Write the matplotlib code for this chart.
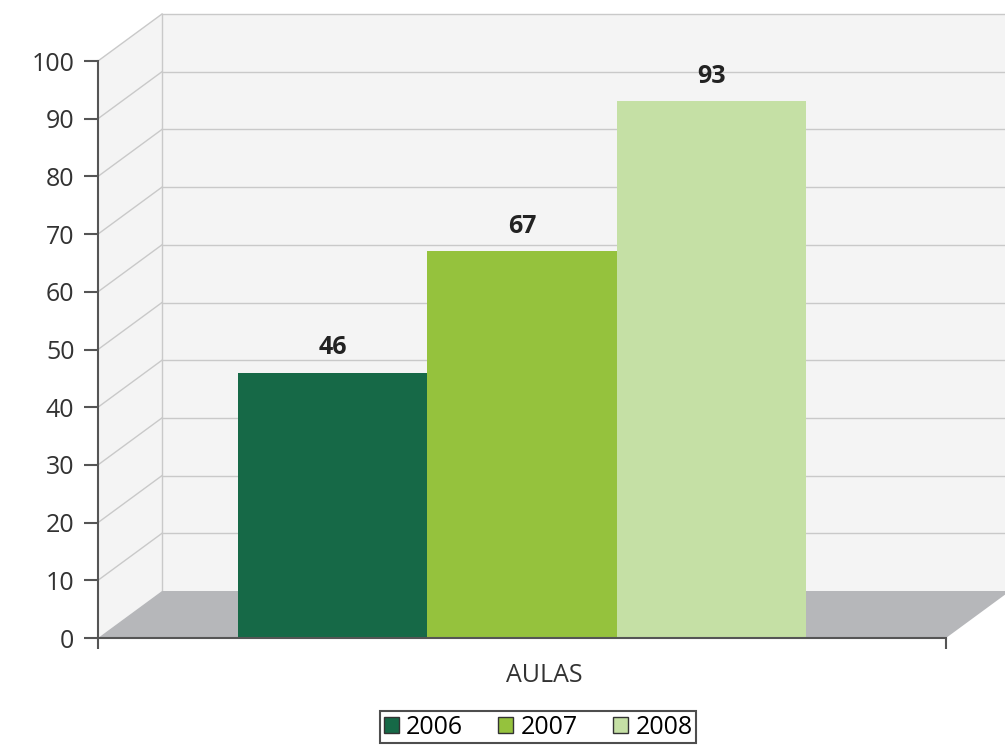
import matplotlib.pyplot as plt
from matplotlib.patches import Polygon, Patch

plt.rcParams['font.family'] = ['Open Sans', 'DejaVu Sans']

# data
years = ['2006', '2007', '2008']
values = [46, 67, 93]
colors = ['#166947', '#95c23d', '#c5e0a5']
category = 'AULAS'
y_ticks = list(range(0, 101, 10))

fig = plt.figure(figsize=(10.05, 7.45), dpi=100)
ax = fig.add_axes([98 / 1005, 107 / 745, 848 / 1005, 577 / 745])
ax.set_xlim(0, 1)
ax.set_ylim(0, 100)

# depth of the fake 3d box
dx = 64 / 848
dy = 47 / 577 * 100

wall_c = '#f4f4f4'
grid_c = '#c9c9c9'

# side wall, back wall and floor
ax.add_patch(Polygon([(0, 0), (dx, dy), (dx, 100 + dy), (0, 100)], closed=True,
                     facecolor=wall_c, edgecolor='none', clip_on=False, zorder=0))
ax.add_patch(Polygon([(dx, dy), (1 + dx, dy), (1 + dx, 100 + dy), (dx, 100 + dy)], closed=True,
                     facecolor=wall_c, edgecolor='none', clip_on=False, zorder=0))
ax.add_patch(Polygon([(0, 0), (dx, dy), (1 + dx, dy), (1, 0)], closed=True,
                     facecolor='#b6b7ba', edgecolor='none', clip_on=False, zorder=1))

# grid lines on the walls
for v in y_ticks[1:]:
    ax.plot([0, dx], [v, v + dy], color=grid_c, lw=1, clip_on=False, zorder=0.5)
    ax.plot([dx, 1 + dx], [v + dy, v + dy], color=grid_c, lw=1, clip_on=False, zorder=0.5)
ax.plot([dx, dx], [dy, 100 + dy], color=grid_c, lw=1, clip_on=False, zorder=0.5)

# bars
width = 0.223
for i, (yr, v, c) in enumerate(zip(years, values, colors)):
    x = 0.5 + (i - 1) * width
    ax.bar(x, v, width=width, color=c, zorder=2, label=yr)
    ax.text(x, v + 4.3, str(v), ha='center', va='center', fontsize=18,
            fontweight='bold', color='#222222', zorder=3)

# axes styling
ax.set_facecolor('none')
for s in ['top', 'right']:
    ax.spines[s].set_visible(False)
for s in ['left', 'bottom']:
    ax.spines[s].set_color('#555555')
    ax.spines[s].set_linewidth(1.5)
    ax.spines[s].set_zorder(3)
ax.set_yticks(y_ticks)
ax.set_xticks([0, 1])
ax.set_xticklabels(['', ''])
ax.tick_params(axis='y', length=10, width=1.5, color='#555555', labelsize=18,
               labelcolor='#333333', pad=7)
ax.tick_params(axis='x', length=8, width=1.5, color='#555555')

fig.text(544 / 1005, 1 - 676 / 745, category, ha='center', va='center',
         fontsize=18, color='#333333')

handles = [Patch(facecolor=c, edgecolor='#333333', label=y) for y, c in zip(years, colors)]
leg = fig.legend(handles=handles, loc='center', bbox_to_anchor=(538 / 1005, 1 - 727 / 745),
                 ncol=3, fontsize=18, frameon=True, fancybox=False, edgecolor='#222222',
                 handlelength=0.6, handleheight=0.6, handletextpad=0.3, columnspacing=1.4,
                 borderpad=0.15, borderaxespad=0)
leg.get_frame().set_linewidth(1.5)

fig.savefig('out.png', dpi=100, facecolor='white')
